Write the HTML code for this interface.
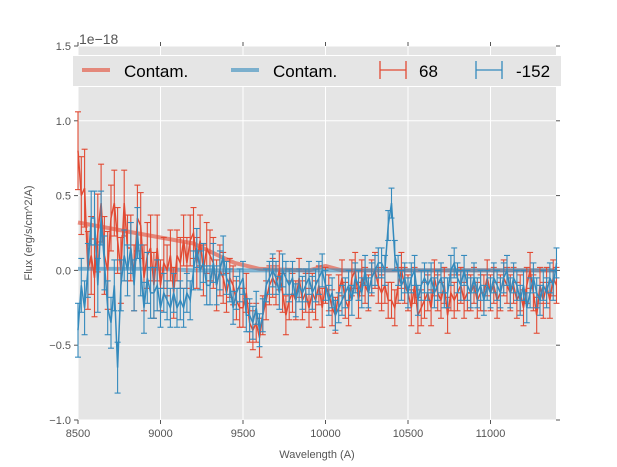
<!DOCTYPE html>
<html><head><meta charset="utf-8"><style>
body{margin:0;background:#fff;}
svg{display:block;font-family:"Liberation Sans",sans-serif;}
</style></head><body>
<svg id="chart" width="617" height="467">
<rect x="78" y="46" width="478" height="374" fill="#E5E5E5"/>
<g id="grid"></g><g id="axes"></g>
<g id="series"></g>
<text x="79" y="44" font-size="14" fill="#555">1e−18</text>
<text x="317" y="458" font-size="11" fill="#555" text-anchor="middle">Wavelength (A)</text>
<text transform="translate(32,233) rotate(-90)" font-size="11" fill="#555" text-anchor="middle">Flux (erg/s/cm^2/A)</text>
<g>
<rect x="72.5" y="55.5" width="489" height="31" fill="#E5E5E5" stroke="#fff" stroke-width="1"/>
<line x1="82" y1="70" x2="110" y2="70" stroke="#E24A33" stroke-opacity="0.6" stroke-width="4"/>
<text x="124" y="77" font-size="17" fill="#000">Contam.</text>
<line x1="231" y1="70" x2="259" y2="70" stroke="#348ABD" stroke-opacity="0.6" stroke-width="4"/>
<text x="273" y="77" font-size="17" fill="#000">Contam.</text>
<g stroke="#E24A33" stroke-width="1.3"><line x1="380" y1="70" x2="406" y2="70"/><line x1="380" y1="61" x2="380" y2="79"/><line x1="406" y1="61" x2="406" y2="79"/></g>
<text x="419" y="77" font-size="17" fill="#000">68</text>
<g stroke="#348ABD" stroke-width="1.3"><line x1="476" y1="70" x2="502" y2="70"/><line x1="476" y1="61" x2="476" y2="79"/><line x1="502" y1="61" x2="502" y2="79"/></g>
<text x="516" y="77" font-size="17" fill="#000">-152</text>
</g>
</svg>
<script>
const wlStart = 8500, wlStep = 20;
const red68 = [0.8,0.5,0.55,0.0,0.1,-0.05,0.25,0.45,0.1,0.0,0.35,0.45,0.2,0.0,0.45,0.15,0.15,-0.05,0.35,0.3,-0.05,0.1,0.15,-0.1,0.15,-0.1,0.05,0.0,0.1,-0.15,0.1,0.05,0.2,0.05,0.2,0.25,0.05,0.2,0.0,0.15,
0.1,0.05,-0.1,0.0,-0.05,-0.15,-0.05,-0.1,-0.2,-0.25,-0.25,-0.15,-0.35,-0.4,-0.35,-0.45,-0.3,-0.2,-0.1,-0.05,-0.1,0.0,-0.15,-0.3,-0.2,-0.15,-0.2,-0.05,-0.2,-0.15,-0.25,-0.15,-0.2,-0.1,-0.25,-0.1,-0.15,-0.25,-0.3,-0.15,-0.05,-0.2,-0.25,-0.05,0.0,-0.2,-0.05,-0.1,-0.15,-0.05,0.0,-0.1,-0.15,-0.1,-0.2,-0.2,-0.25,-0.1,0.0,-0.1,-0.15,-0.25,-0.1,-0.3,-0.25,-0.2,-0.15,-0.25,-0.05,-0.15,-0.2,-0.1,-0.3,-0.15,-0.2,-0.15,-0.1,-0.2,-0.15,-0.15,-0.1,-0.2,-0.15,-0.15,-0.05,-0.15,-0.1,-0.2,-0.15,-0.05,-0.1,-0.15,-0.1,-0.2,-0.15,-0.25,-0.1,0.0,-0.15,-0.3,-0.1,-0.2,-0.1,-0.2,-0.05,-0.1];
const blue152 = [-0.4,-0.1,-0.25,0.0,0.35,0.35,-0.1,0.35,0.05,-0.25,-0.35,-0.1,-0.65,-0.1,0.1,0.0,0.15,-0.1,0.25,0.0,-0.25,-0.05,-0.15,-0.15,-0.1,-0.25,-0.15,-0.2,-0.25,-0.15,-0.25,-0.2,-0.25,-0.15,-0.2,0.0,0.15,0.0,0.05,-0.1,
-0.1,0.05,-0.1,0.0,0.1,-0.05,-0.1,-0.25,-0.15,-0.1,-0.05,-0.3,-0.3,-0.35,-0.25,-0.4,-0.3,-0.1,-0.05,0.0,-0.05,-0.15,0.0,-0.05,-0.1,-0.05,-0.2,-0.1,-0.15,-0.1,-0.05,-0.15,-0.1,-0.05,0.0,-0.1,-0.2,-0.15,-0.3,-0.25,-0.2,-0.15,-0.1,-0.2,-0.05,-0.1,-0.15,0.0,-0.15,-0.05,0.0,0.05,0.05,0.0,0.3,0.45,0.1,0.0,-0.1,-0.05,-0.15,-0.05,0.0,-0.2,-0.1,-0.05,-0.1,-0.05,-0.15,-0.1,-0.05,-0.15,-0.15,0.0,0.05,-0.05,-0.1,0.0,-0.1,-0.15,-0.05,-0.15,-0.1,-0.2,-0.1,-0.15,-0.05,-0.1,-0.15,-0.05,0.0,-0.15,-0.05,-0.1,-0.2,-0.1,-0.25,-0.15,-0.05,-0.15,-0.2,-0.1,-0.15,-0.05,-0.1,0.05];
const errWl = [8500,8700,9000,9400,10000,11400];
const errRed = [0.26,0.22,0.17,0.13,0.12];
const errBlue = [0.18,0.17,0.13,0.11,0.1];
const contamWl = [8500,8700,9000,9200,9350,9450,9600,9900,10000,10100,11400];
const contamRed = [0.32,0.28,0.22,0.18,0.1,0.05,0.01,0.0,0.03,0.0,0.0];
const contamBlue = [0.01,0.01,0.01,0.0,0.0,0.0,0.0,0.0,0.0,0.0,0.0];
const xTicks = [8500,9000,9500,10000,10500,11000];
const yTicks = [-1.0,-0.5,0.0,0.5,1.0,1.5];
const yTickLabels = ["−1.0","−0.5","0.0","0.5","1.0","1.5"];

const X0=78,X1=556,XMIN=8500,XMAX=11397,Y0=420,Y1=46,YMIN=-1,YMAX=1.5;
const sx=v=>X0+(v-XMIN)/(XMAX-XMIN)*(X1-X0);
const sy=v=>Y0-(v-YMIN)/(YMAX-YMIN)*(Y0-Y1);
const NS='http://www.w3.org/2000/svg';
function mk(tag,attrs,parent){const e=document.createElementNS(NS,tag);for(const k in attrs)e.setAttribute(k,attrs[k]);parent.appendChild(e);return e;}
const grid=document.getElementById('grid'),axes=document.getElementById('axes'),ser=document.getElementById('series');
xTicks.forEach(t=>{const x=sx(t);
 const g=mk('line',{x1:x,x2:x,y1:Y1,y2:Y0,stroke:'#fff','stroke-width':1},grid);
 
 
 mk('line',{x1:x,x2:x,y1:Y0,y2:Y0+4,stroke:'#555'},axes);
 mk('line',{x1:x,x2:x,y1:Y1,y2:Y1-4,stroke:'#555'},axes);
 const tx=mk('text',{x:x,y:Y0+17,'font-size':11,fill:'#555','text-anchor':'middle'},axes);tx.textContent=t;
 
 });
yTicks.forEach((t,i)=>{const y=sy(t);
 const g=mk('line',{x1:X0,x2:X1,y1:y,y2:y,stroke:'#fff','stroke-width':1},grid);
 
 
 mk('line',{x1:X0-4,x2:X0,y1:y,y2:y,stroke:'#555'},axes);
 mk('line',{x1:X1,x2:X1+4,y1:y,y2:y,stroke:'#555'},axes);
 const tx=mk('text',{x:X0-7,y:y+4,'font-size':11,fill:'#555','text-anchor':'end'},axes);tx.textContent=yTickLabels[i];
 
 });
function errAt(w,arr){for(let i=0;i<arr.length;i++){if(w<errWl[i+1])return arr[i];}return arr[arr.length-1];}
function contamLine(vals,color,name){
 const p=vals.map((v,i)=>sx(contamWl[i])+','+sy(v)).join(' ');
 const l=mk('polyline',{points:p,fill:'none',stroke:color,'stroke-width':4,'stroke-opacity':0.6},ser);
 
 }
function errSeries(vals,errs,color,name){
 const g=mk('g',{stroke:color,'stroke-width':1.1,fill:'none'},ser);
 
 
 vals.forEach((v,i)=>{const w=wlStart+i*wlStep,x=sx(w),e=errAt(w,errs);
  const a=sy(v+e),b=sy(v-e);
  mk('line',{x1:x,x2:x,y1:a,y2:b},g);
  mk('line',{x1:x-3,x2:x+3,y1:a,y2:a},g);
  mk('line',{x1:x-3,x2:x+3,y1:b,y2:b},g);});
 const p=vals.map((v,i)=>sx(wlStart+i*wlStep)+','+sy(v)).join(' ');
 const l=mk('polyline',{points:p,fill:'none',stroke:color,'stroke-width':1.5},ser);
 
 }
contamLine(contamRed,'#E24A33','contam-line-red');
contamLine(contamBlue,'#348ABD','contam-line-blue');
errSeries(red68,errRed,'#E24A33','series-68');
errSeries(blue152,errBlue,'#348ABD','series-152');
</script>
</body></html>
